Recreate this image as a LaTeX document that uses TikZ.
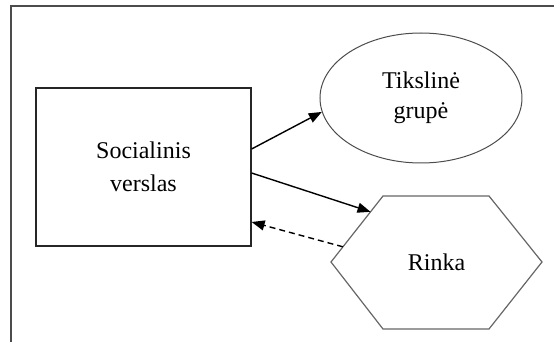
\documentclass[tikz,border=0pt]{standalone}
\usepackage{fontspec}
\setmainfont{Liberation Serif}
\usetikzlibrary{arrows.meta,positioning,calc,shapes.geometric}

\begin{document}
\begin{tikzpicture}[x=0.5pt,y=-0.5pt,
  box/.style={draw=black!85, line width=0.6pt, rectangle, minimum width=107.5pt,
    minimum height=79pt, inner sep=0pt, align=center, font=\fontsize{12}{16.5}\selectfont},
  oval/.style={draw=black!70, line width=0.5pt, ellipse, minimum width=101pt,
    minimum height=65pt, inner sep=0pt, align=center, font=\fontsize{12}{15}\selectfont},
  hexline/.style={draw=black!60, line width=0.6pt, line join=miter},
  link/.style={-{Triangle[length=6.5pt,width=5pt]}, line width=0.7pt},
  back/.style={link, dash pattern=on 3pt off 2pt}]
  \useasboundingbox (0,0) rectangle (554,342);
  % remelis
  \draw[black!70, line width=0.75pt] (11,342) -- (11,6) -- (554,6);
  % mazgai
  \node[box]  (soc) at (143.5,167) {Socialinis\\verslas};
  \node[oval] (grp) at (421,98) {Tikslinė\\grupė};
  \node[font=\fontsize{12}{15}\selectfont] (rin) at (436.5,262.5) {Rinka};
  % sesiakampis
  \coordinate (hW)  at (331,262);
  \coordinate (hNW) at (383,196);
  \coordinate (hNE) at (489,196);
  \coordinate (hE)  at (542,262);
  \coordinate (hSE) at (489,329);
  \coordinate (hSW) at (383,329);
  \draw[hexline] (hW) -- (hNW) -- (hNE) -- (hE) -- (hSE) -- (hSW) -- cycle;
  % rodykles
  \draw[link] ([yshift=9pt]soc.east) -- (grp.188);
  \draw[link] ([yshift=-3pt]soc.east) -- ($(hW)!0.76!(hNW)$);
  \draw[back] ($(hW)!0.23!(hNW)$) -- ([yshift=-27.5pt]soc.east);
\end{tikzpicture}
\end{document}
